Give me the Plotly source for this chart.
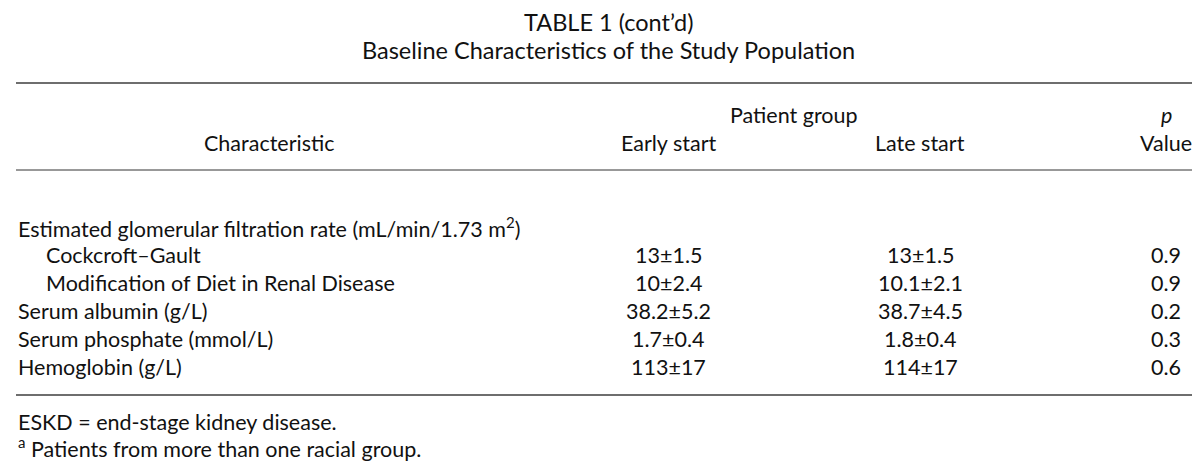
import plotly.graph_objects as go

# ---- data ----
title_lines = ["TABLE 1 (cont’d)", "Baseline Characteristics of the Study Population"]
group_header = "Patient group"
col_headers = ["Characteristic", "Early start", "Late start"]
p_header = ["<i>p</i>", "Value"]
row_labels = [
    "Estimated glomerular filtration rate (mL/min/1.73 m<sup>2</sup>)",
    "Cockcroft–Gault",
    "Modification of Diet in Renal Disease",
    "Serum albumin (g/L)",
    "Serum phosphate (mmol/L)",
    "Hemoglobin (g/L)",
]
row_indent = [0, 1, 1, 0, 0, 0]
early_start = ["", "13±1.5", "10±2.4", "38.2±5.2", "1.7±0.4", "113±17"]
late_start = ["", "13±1.5", "10.1±2.1", "38.7±4.5", "1.8±0.4", "114±17"]
p_values = ["", "0.9", "0.9", "0.2", "0.3", "0.6"]
footnotes = ["ESKD = end-stage kidney disease.", "<sup>a</sup> Patients from more than one racial group."]

# ---- layout constants ----
W, H = 1200, 463
FONT = "Lato"
FS = 21.5
FS_TITLE = 23.5
TXT = "#111111"
X_LEFT = 8
X_RIGHT = 1189
X_INDENT = 36
X_EARLY = 660
X_LATE = 912
X_P = 1158
ROW_Y0 = 219
ROW_STEP = 27.9

fig = go.Figure()
ann = []

def add(text, x, y, xanchor="center", size=FS):
    ann.append(dict(text=text, x=x, y=y, xref="x", yref="y", xanchor=xanchor,
                    yanchor="middle", showarrow=False,
                    font=dict(family=FONT, size=size, color=TXT)))

# titles
add(title_lines[0], 600, 14, size=FS_TITLE)
add(title_lines[1], 600, 42, size=FS_TITLE)

# headers
add(group_header, 786, 107)
add(p_header[0], X_P, 107)
add(col_headers[0], 261, 135)
add(col_headers[1], X_EARLY, 135)
add(col_headers[2], X_LATE, 135)
add(p_header[1], X_P, 135)

# rows
for i, lab in enumerate(row_labels):
    y = ROW_Y0 + i * ROW_STEP
    add(lab, X_INDENT if row_indent[i] else X_LEFT, y, xanchor="left")
    if early_start[i]:
        add(early_start[i], X_EARLY, y)
    if late_start[i]:
        add(late_start[i], X_LATE, y)
    if p_values[i]:
        add(p_values[i], X_P, y)

# footnotes
add(footnotes[0], X_LEFT, 414, xanchor="left")
add(footnotes[1], X_LEFT, 439, xanchor="left")

shapes = [
    dict(type="line", xref="x", yref="y", x0=X_LEFT, x1=X_RIGHT, y0=75, y1=75,
         line=dict(color="#6e6e6e", width=2)),
    dict(type="line", xref="x", yref="y", x0=X_LEFT, x1=X_RIGHT, y0=162, y1=162,
         line=dict(color="#333333", width=1)),
    dict(type="line", xref="x", yref="y", x0=X_LEFT, x1=X_RIGHT, y0=387, y1=387,
         line=dict(color="#6e6e6e", width=2)),
]

fig.update_layout(
    width=W, height=H, margin=dict(l=0, r=0, t=0, b=0),
    paper_bgcolor="white", plot_bgcolor="white",
    xaxis=dict(range=[0, W], visible=False, fixedrange=True),
    yaxis=dict(range=[H, 0], visible=False, fixedrange=True),
    annotations=ann, shapes=shapes, showlegend=False,
)

fig.write_html("out.html")
